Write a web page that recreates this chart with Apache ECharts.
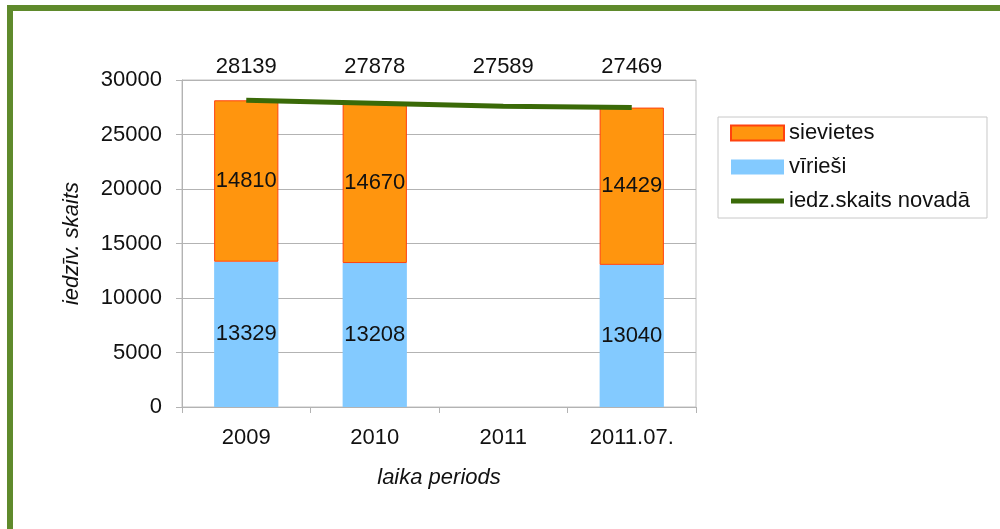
<!DOCTYPE html>
<html>
<head>
<meta charset="utf-8">
<script src="https://cdn.jsdelivr.net/npm/echarts@6/dist/echarts.min.js"></script>
<style>
 html, body { margin:0; padding:0; background:#fff; }
 #chart { width:1000px; height:529px; }
</style>
</head>
<body>
<div id="chart"></div>
<script>
var periods = ['2009', '2010', '2011', '2011.07.'];
var sievietes = [14810, 14670, '-', 14429];
var virviesi = [13329, 13208, '-', 13040];
var kopa = [28139, 27878, 27589, 27469];
var yTicks = { min: 0, max: 30000, interval: 5000 };

var font = 'Liberation Sans, Arial, sans-serif';
var fs = 22;

var myChart = echarts.init(document.getElementById('chart'));

// legend icon for the line: thick bar centred in the icon box
var lineIcon = 'path://M0,0 L0,0 M0,5 L53,5 L53,10 L0,10 Z M0,15 L0,15';

var option = {
  backgroundColor: '#ffffff',
  textStyle: { fontFamily: font },
  animation: false,
  graphic: [
    { type: 'rect', shape: { x: 10, y: 8, width: 1010, height: 560 },
      style: { fill: 'none', stroke: '#5f8a2c', lineWidth: 6 }, z: -1 }
  ],
  grid: {
    left: 182, right: 304, top: 80, bottom: 122,
    show: true, borderColor: '#c0c0c0', borderWidth: 1
  },
  legend: {
    orient: 'vertical',
    left: 718, top: 117,
    padding: [5, 17, 6, 12],
    itemGap: 12,
    itemWidth: 53, itemHeight: 15,
    borderColor: '#c8c8c8', borderWidth: 1,
    textStyle: { fontSize: fs, color: '#111', fontFamily: font },
    data: [
      { name: 'sievietes', icon: 'rect' },
      { name: 'vīrieši', icon: 'rect' },
      { name: 'iedz.skaits novadā', icon: lineIcon }
    ]
  },
  xAxis: [
    {
      type: 'category',
      data: periods,
      name: 'laika periods',
      nameLocation: 'middle',
      nameGap: 60,
      nameTextStyle: { fontSize: fs, fontStyle: 'italic', color: '#111' },
      axisLine: { lineStyle: { color: '#b3b3b3' } },
      axisTick: { show: true, length: 6, lineStyle: { color: '#b3b3b3' } },
      axisLabel: { fontSize: fs, color: '#111', margin: 20 }
    },
    {
      type: 'category',
      position: 'top',
      data: kopa,
      axisLine: { show: false },
      axisTick: { show: false },
      axisLabel: { fontSize: fs, color: '#111', margin: 2 }
    }
  ],
  yAxis: {
    type: 'value',
    min: yTicks.min, max: yTicks.max, interval: yTicks.interval,
    name: 'iedzīv. skaits',
    nameLocation: 'middle',
    nameGap: 99,
    nameTextStyle: { fontSize: fs, fontStyle: 'italic', color: '#111' },
    axisLine: { show: true, lineStyle: { color: '#b3b3b3' } },
    axisTick: { show: true, length: 6, lineStyle: { color: '#b3b3b3' } },
    axisLabel: { fontSize: fs, color: '#111', margin: 20,
      formatter: function (v) { return String(v); } },
    splitLine: { lineStyle: { color: '#b3b3b3' } }
  },
  series: [
    {
      name: 'vīrieši',
      type: 'bar',
      stack: 'pop',
      barWidth: '50%',
      data: virviesi,
      itemStyle: { color: '#83caff' },
      label: { show: true, position: 'inside', fontSize: fs, color: '#111' }
    },
    {
      name: 'sievietes',
      type: 'bar',
      stack: 'pop',
      barWidth: '50%',
      data: sievietes,
      itemStyle: { color: '#ff950e', borderColor: '#ff420e', borderWidth: 1 },
      label: { show: true, position: 'inside', fontSize: fs, color: '#111' }
    },
    {
      name: 'iedz.skaits novadā',
      type: 'line',
      data: kopa,
      symbol: 'none',
      lineStyle: { color: '#3a6a08', width: 5 },
      itemStyle: { color: '#3a6a08' },
      z: 5
    }
  ]
};

myChart.setOption(option);
</script>
</body>
</html>
